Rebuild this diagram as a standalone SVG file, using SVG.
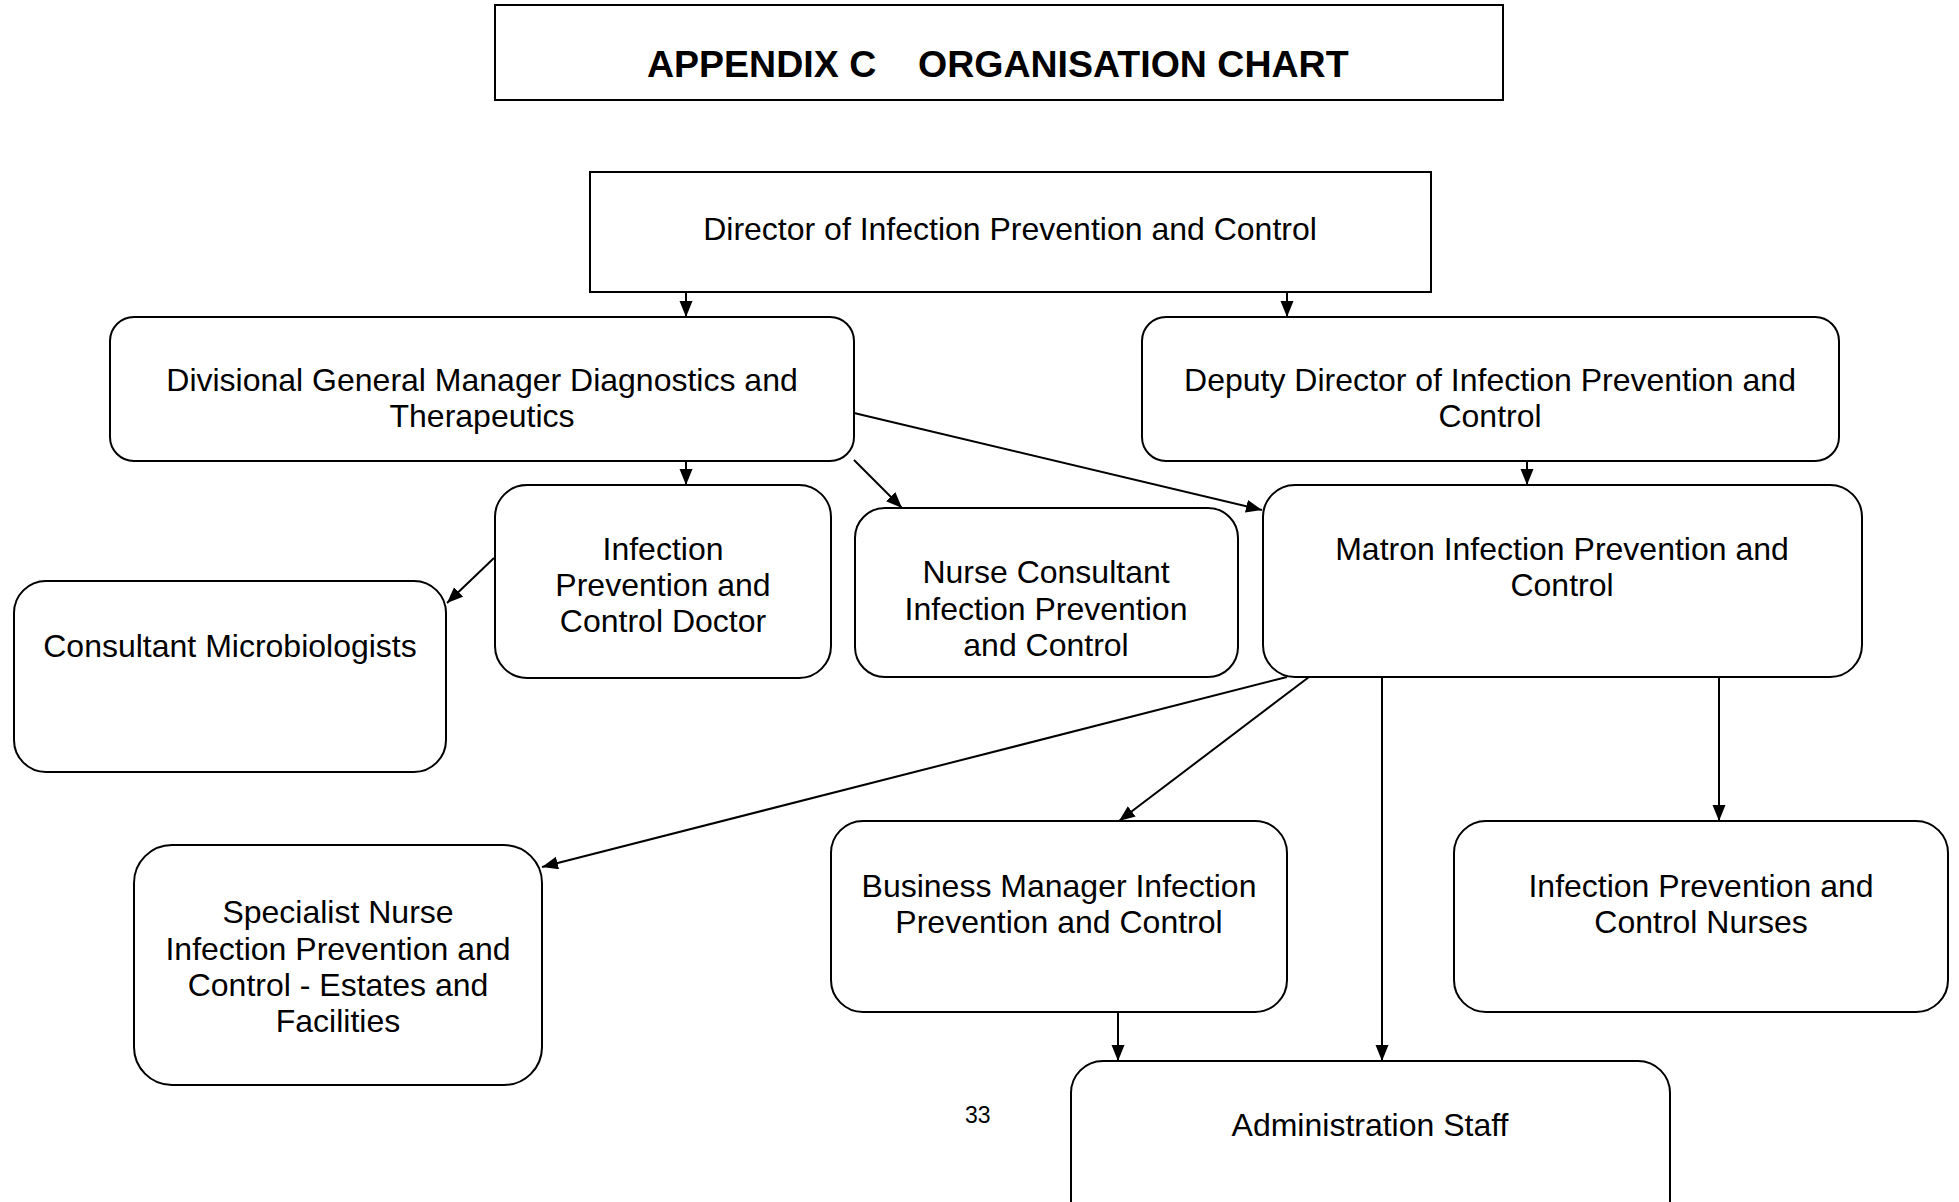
<svg xmlns="http://www.w3.org/2000/svg" width="1959" height="1202" viewBox="0 0 1959 1202">
<style>
.box{fill:#fff;stroke:#000;stroke-width:2}
.t{font-family:"Liberation Sans",Arial,sans-serif;font-size:32px;fill:#000;text-anchor:middle}
.title{font-family:"Liberation Sans",Arial,sans-serif;font-size:37.5px;font-weight:bold;fill:#000}
.c{fill:none;stroke:#000;stroke-width:2;marker-end:url(#ah)}
</style>
<defs>
<marker id="ah" markerUnits="userSpaceOnUse" markerWidth="18" markerHeight="14" refX="16" refY="6.5" orient="auto">
<path d="M0,0 L16,6.5 L0,13 Z" fill="#000"/>
</marker>
</defs>
<rect width="1959" height="1202" fill="#fff"/>

<g id="title">
<rect class="box" x="495" y="5" width="1008" height="95"/>
<text class="title" x="647" y="77">APPENDIX C<tspan x="918">ORGANISATION CHART</tspan></text>
</g>

<g id="connectors">
<line class="c" x1="686" y1="292" x2="686" y2="317"/>
<line class="c" x1="1287" y1="292" x2="1287" y2="317"/>
<line class="c" x1="686" y1="461" x2="686" y2="485"/>
<line class="c" x1="854" y1="460" x2="902" y2="508"/>
<line class="c" x1="854" y1="413" x2="1262" y2="510"/>
<line class="c" x1="1527" y1="461" x2="1527" y2="485"/>
<line class="c" x1="494" y1="558" x2="447" y2="603"/>
<line class="c" x1="1287" y1="677" x2="542" y2="867"/>
<line class="c" x1="1309" y1="677" x2="1119" y2="821"/>
<line class="c" x1="1382" y1="677" x2="1382" y2="1061"/>
<line class="c" x1="1719" y1="677" x2="1719" y2="821"/>
<line class="c" x1="1118" y1="1012" x2="1118" y2="1061"/>
</g>

<g id="director">
<rect class="box" x="590" y="172" width="841" height="120"/>
<text class="t" x="1010" y="240">Director of Infection Prevention and Control</text>
</g>

<g id="divisional">
<rect class="box" x="110" y="317" width="744" height="144" rx="24"/>
<text class="t" x="482" y="391">Divisional General Manager Diagnostics and</text>
<text class="t" x="482" y="427">Therapeutics</text>
</g>

<g id="deputy">
<rect class="box" x="1142" y="317" width="697" height="144" rx="24"/>
<text class="t" x="1490" y="391">Deputy Director of Infection Prevention and</text>
<text class="t" x="1490" y="427">Control</text>
</g>

<g id="ipc-doctor">
<rect class="box" x="495" y="485" width="336" height="193" rx="32"/>
<text class="t" x="663" y="560">Infection</text>
<text class="t" x="663" y="596">Prevention and</text>
<text class="t" x="663" y="632">Control Doctor</text>
</g>

<g id="nurse-consultant">
<rect class="box" x="855" y="508" width="383" height="169" rx="30"/>
<text class="t" x="1046" y="583">Nurse Consultant</text>
<text class="t" x="1046" y="620">Infection Prevention</text>
<text class="t" x="1046" y="656">and Control</text>
</g>

<g id="matron">
<rect class="box" x="1263" y="485" width="599" height="192" rx="32"/>
<text class="t" x="1562" y="560">Matron Infection Prevention and</text>
<text class="t" x="1562" y="596">Control</text>
</g>

<g id="microbiologists">
<rect class="box" x="14" y="581" width="432" height="191" rx="32"/>
<text class="t" x="230" y="657">Consultant Microbiologists</text>
</g>

<g id="specialist-nurse">
<rect class="box" x="134" y="845" width="408" height="240" rx="38"/>
<text class="t" x="338" y="923">Specialist Nurse</text>
<text class="t" x="338" y="960">Infection Prevention and</text>
<text class="t" x="338" y="996">Control - Estates and</text>
<text class="t" x="338" y="1032">Facilities</text>
</g>

<g id="business-manager">
<rect class="box" x="831" y="821" width="456" height="191" rx="32"/>
<text class="t" x="1059" y="897">Business Manager Infection</text>
<text class="t" x="1059" y="933">Prevention and Control</text>
</g>

<g id="ipc-nurses">
<rect class="box" x="1454" y="821" width="494" height="191" rx="32"/>
<text class="t" x="1701" y="897">Infection Prevention and</text>
<text class="t" x="1701" y="933">Control Nurses</text>
</g>

<g id="admin-staff">
<rect class="box" x="1071" y="1061" width="599" height="180" rx="32"/>
<text class="t" x="1370" y="1136">Administration Staff</text>
</g>

<text x="965" y="1123" style="font-family:'Liberation Sans',Arial,sans-serif;font-size:23px;fill:#000">33</text>
</svg>
